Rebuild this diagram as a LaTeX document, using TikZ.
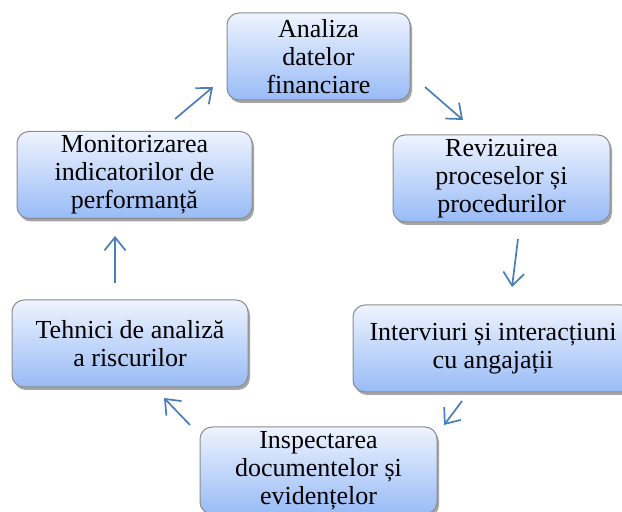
\documentclass[tikz,border=0pt]{standalone}
\usepackage{fontspec}
\setmainfont{Liberation Serif}
\usetikzlibrary{arrows.meta,shadows}

\definecolor{sus}{RGB}{238,243,254}
\definecolor{jos}{RGB}{152,187,246}
\definecolor{sageata}{RGB}{74,126,187}

\tikzset{
    etapa/.style={rounded corners=12pt, draw=black!45, line width=1pt,
        top color=sus, bottom color=jos, minimum height=87pt,
        align=center, inner sep=2pt,
        drop shadow={shadow xshift=2pt, shadow yshift=-3pt, opacity=0.5, fill=black!70},
        font=\fontsize{26}{28}\selectfont},
    legatura/.style={draw=sageata, line width=1.7pt,
        -{Straight Barb[length=13pt,width=21pt]}}
}

\begin{document}
\begin{tikzpicture}[x=1pt,y=1pt]
        \useasboundingbox (0,0) rectangle (622,512);
        % Etape
        \node[etapa, minimum width=183pt] (A) at (318.5, 455.5) {Analiza\\datelor\\financiare};
        \node[etapa, minimum width=217pt] (R) at (501.5, 333.5) {Revizuirea\\proceselor și\\procedurilor};
        \node[etapa, minimum width=280pt] (I) at (493, 163.5) {Interviuri și interacțiuni\\cu angajații};
        \node[etapa, minimum width=237pt] (N) at (318.5, 41.5) {Inspectarea\\documentelor și\\evidențelor};
        \node[etapa, minimum width=236pt] (T) at (130, 168.5) {Tehnici de analiză\\a riscurilor};
        \node[etapa, minimum width=235pt] (M) at (134.5, 337) {Monitorizarea\\indicatorilor de\\performanță};
    
        % Sageti
        \draw[legatura] ([shift={(106.5,-30.5)}]A.center) -- ([shift={(-38.5,58.5)}]R.center);
        \draw[legatura] ([shift={(16.5,-60.5)}]R.center) -- ([shift={(19,61.5)}]I.center);
        \draw[legatura] ([shift={(-31,-52.5)}]I.center) -- ([shift={(125.5,45.5)}]N.center);
        \draw[legatura] ([shift={(-128.5,45.5)}]N.center) -- ([shift={(34,-54.5)}]T.center);
        \draw[legatura] ([shift={(-15,60.5)}]T.center) -- ([shift={(-19.5,-61)}]M.center);
        \draw[legatura] ([shift={(40.5,56)}]M.center) -- ([shift={(-105.5,-30.5)}]A.center);
    \end{tikzpicture}
\end{document}
